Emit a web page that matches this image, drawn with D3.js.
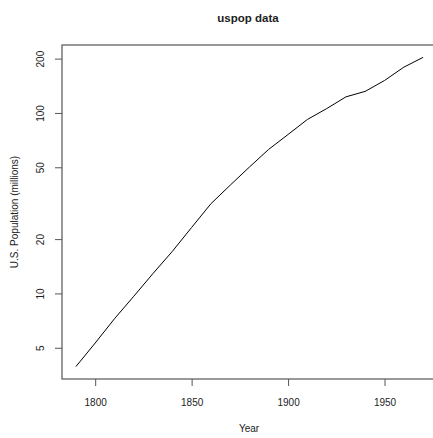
<!DOCTYPE html>
<html>
<head>
<meta charset="utf-8">
<script src="https://cdn.jsdelivr.net/npm/d3@7"></script>
<style>
  body { margin: 0; background: #fff; overflow: hidden; }
  svg text { font-family: "Liberation Sans", Arial, sans-serif; fill: #222; }
</style>
</head>
<body>
<svg id="chart" width="433" height="438"></svg>
<script>
// uspop (millions), census years
const years = [1790, 1800, 1810, 1820, 1830, 1840, 1850, 1860, 1870, 1880,
               1890, 1900, 1910, 1920, 1930, 1940, 1950, 1960, 1970];
const population = [3.93, 5.31, 7.24, 9.64, 12.9, 17.1, 23.2, 31.4, 39.8, 50.2,
                    62.9, 76.0, 92.0, 105.7, 122.8, 131.7, 151.3, 179.3, 203.2];
const xTicks = [1800, 1850, 1900, 1950];
const yTicks = [5, 10, 20, 50, 100, 200];

const svg = d3.select('#chart');
const margin = { top: 45, right: -4, bottom: 59, left: 62 };
const width = +svg.attr("width") - margin.left - margin.right;
const height = +svg.attr("height") - margin.top - margin.bottom;

// R style 4% padding on both axes
const xPad = (d3.max(years) - d3.min(years)) * 0.04;
const x = d3.scaleLinear()
    .domain([d3.min(years) - xPad, d3.max(years) + xPad])
    .range([0, width]);

const lmin = Math.log10(d3.min(population)), lmax = Math.log10(d3.max(population));
const lPad = (lmax - lmin) * 0.04;
const y = d3.scaleLog()
    .domain([Math.pow(10, lmin - lPad), Math.pow(10, lmax + lPad)])
    .range([height, 0]);

const g = svg.append("g")
    .attr("transform", "translate(" + margin.left + "," + margin.top + ")");

const line = d3.line()
    .x((d, i) => x(years[i]))
    .y(d => y(d));

g.append("path")
    .datum(population)
    .attr("fill", "none")
    .attr("stroke", "#000")
    .attr("stroke-width", 1)
    .attr("d", line);

// box
g.append("rect")
    .attr("x", 0).attr("y", 0)
    .attr("width", width).attr("height", height)
    .attr("fill", "none")
    .attr("stroke", "#555")
    .attr("stroke-width", 1.2);

const xAxis = g.append("g")
    .attr("transform", "translate(0," + height + ")")
    .call(d3.axisBottom(x).tickValues(xTicks).tickFormat(d3.format("d")).tickSize(7).tickPadding(13));
xAxis.select(".domain").remove();
xAxis.selectAll("line").attr("stroke", "#555");
xAxis.selectAll("text").style("font-size", "10px").attr("fill", "#222");

const yAxis = g.append("g")
    .call(d3.axisLeft(y).tickValues(yTicks).tickFormat(d3.format("d")).tickSize(7));
yAxis.select(".domain").remove();
yAxis.selectAll("line").attr("stroke", "#555");
yAxis.selectAll("text")
    .style("font-size", "10px")
    .attr("fill", "#222")
    .attr("text-anchor", "middle")
    .attr("x", 0)
    .attr("dy", 0)
    .attr("transform", "translate(-22,0) rotate(-90)")
    .attr("dominant-baseline", "central");

svg.append("text")
    .attr("x", 248)
    .attr("y", 22)
    .attr("text-anchor", "middle")
    .style("font-size", "11.5px")
    .style("font-weight", "bold")
    .text("uspop data");

svg.append("text")
    .attr("x", 249)
    .attr("y", 432)
    .attr("text-anchor", "middle")
    .style("font-size", "10px")
    .text("Year");

svg.append("text")
    .attr("transform", "translate(18,212) rotate(-90)")
    .attr("text-anchor", "middle")
    .style("font-size", "10px")
    .text("U.S. Population (millions)");
</script>
</body>
</html>
